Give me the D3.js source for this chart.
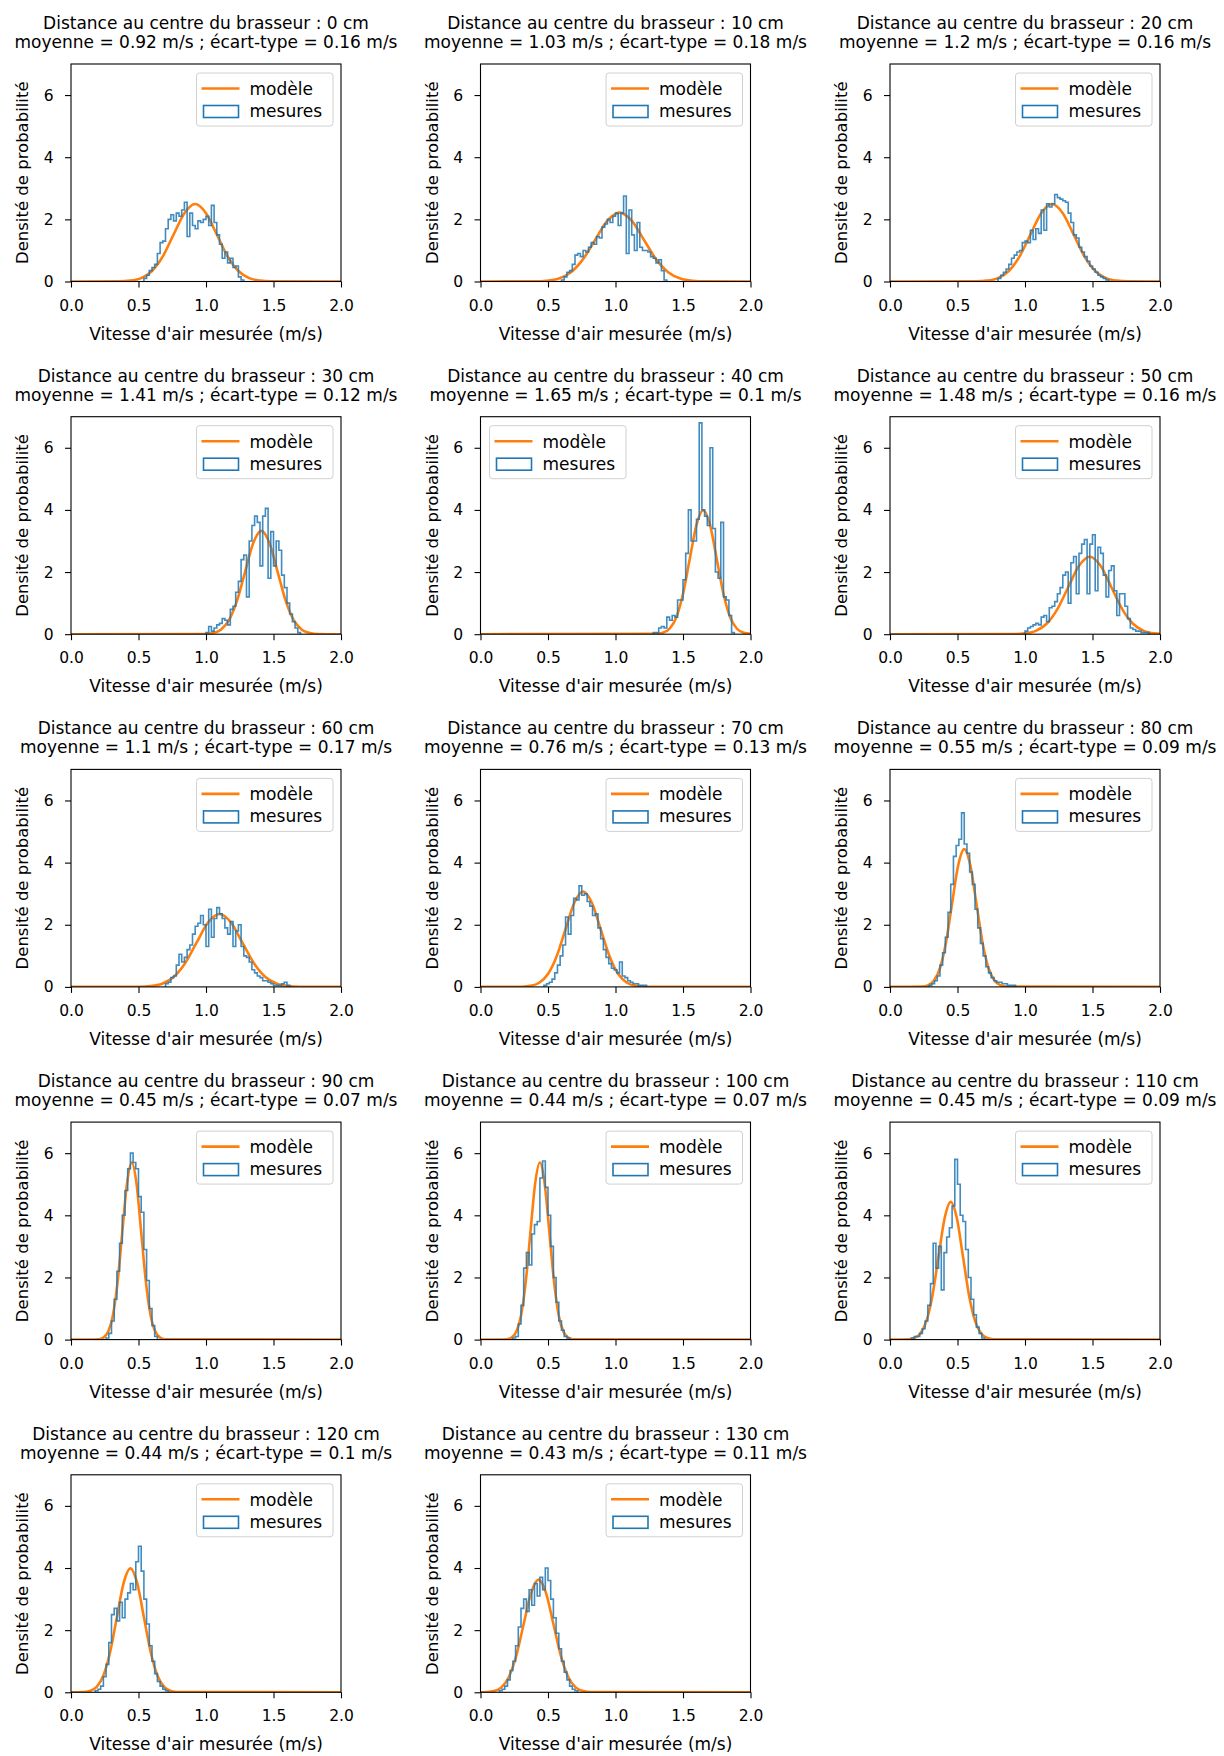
<!DOCTYPE html>
<html>
<head>
<meta charset="utf-8">
<script src="https://cdn.jsdelivr.net/npm/d3@7"></script>
<style>
  html, body { margin: 0; padding: 0; background: #ffffff; }
  svg { display: block; font-family: "DejaVu Sans", sans-serif; }
</style>
</head>
<body>
<svg id="chart" width="1224" height="1756"></svg>
<script>
// ---------- data ----------
const distances = [0, 10, 20, 30, 40, 50, 60, 70, 80, 90, 100, 110, 120, 130];
const means = [0.92, 1.03, 1.2, 1.41, 1.65, 1.48, 1.1, 0.76, 0.55, 0.45, 0.44, 0.45, 0.44, 0.43];
const stds = [0.16, 0.18, 0.16, 0.12, 0.1, 0.16, 0.17, 0.13, 0.09, 0.07, 0.07, 0.09, 0.1, 0.11];

const xTicks = [0, 0.5, 1, 1.5, 2];
const xTickLabels = ["0.0", "0.5", "1.0", "1.5", "2.0"];
const yTicks = [0, 2, 4, 6];
const yTickLabels = ["0", "2", "4", "6"];

const legendLabels = ["modèle", "mesures"];
const xLabel = "Vitesse d'air mesurée (m/s)";
const yLabel = "Densité de probabilité";

// model curve samples
const modelStart = [0.36, 0.40, 0.64, 0.99, 1.30, 0.92, 0.505, 0.305, 0.235, 0.205, 0.195, 0.135, 0.09, 0.045];
const modelStep = [0.08, 0.09, 0.08, 0.06, 0.05, 0.08, 0.085, 0.065, 0.045, 0.035, 0.035, 0.045, 0.05, 0.055];
const modelValues = [
  [0.005,0.028,0.109,0.337,0.809,1.512,2.200,2.493,2.200,1.512,0.809,0.337,0.109,0.028,0.005],
  [0.005,0.025,0.097,0.300,0.720,1.344,1.956,2.216,1.956,1.344,0.720,0.300,0.097,0.025,0.005],
  [0.005,0.028,0.109,0.337,0.809,1.512,2.200,2.493,2.200,1.512,0.809,0.337,0.109,0.028,0.005],
  [0.007,0.037,0.146,0.450,1.079,2.016,2.933,3.324,2.933,2.016,1.079,0.450,0.146,0.037,0.007],
  [0.009,0.044,0.175,0.540,1.295,2.419,3.520,3.989,3.520,2.419,1.295,0.540,0.175,0.044,0.009],
  [0.005,0.028,0.109,0.337,0.809,1.512,2.200,2.493,2.200,1.512,0.809,0.337,0.109,0.028,0.005],
  [0.005,0.026,0.103,0.318,0.762,1.423,2.071,2.347,2.071,1.423,0.762,0.318,0.103,0.026,0.005],
  [0.007,0.034,0.135,0.415,0.997,1.861,2.708,3.069,2.708,1.861,0.997,0.415,0.135,0.034,0.007],
  [0.010,0.049,0.195,0.600,1.439,2.689,3.912,4.433,3.912,2.689,1.439,0.600,0.195,0.049,0.010],
  [0.013,0.063,0.250,0.771,1.850,3.456,5.029,5.699,5.029,3.456,1.850,0.771,0.250,0.063,0.013],
  [0.013,0.063,0.250,0.771,1.850,3.456,5.029,5.699,5.029,3.456,1.850,0.771,0.250,0.063,0.013],
  [0.010,0.049,0.195,0.600,1.439,2.689,3.912,4.433,3.912,2.689,1.439,0.600,0.195,0.049,0.010],
  [0.009,0.044,0.175,0.540,1.295,2.419,3.520,3.989,3.520,2.419,1.295,0.540,0.175,0.044,0.009],
  [0.008,0.040,0.159,0.491,1.178,2.200,3.201,3.627,3.201,2.200,1.178,0.491,0.159,0.040,0.008]
];

// measured histograms (bin width histStep, first bin edge histStart)
const histStep = 0.02;
const histStart = [0.54, 0.60, 0.80, 1.00, 1.28, 1.00, 0.70, 0.47, 0.29, 0.26, 0.24, 0.16, 0.18, 0.14];
const histValues = [
  [0.1,0.2,0.35,0.45,0.55,0.9,1.25,1.3,1.7,2.0,2.15,1.95,2.2,2.1,2.3,2.55,1.45,2.2,1.8,1.7,1.95,1.9,2.0,2.1,1.8,2.45,1.9,1.5,1.2,0.75,0.95,0.6,0.75,0.45,0.5,0.15,0.05],
  [0.05,0.15,0.3,0.35,0.55,0.85,0.9,0.8,1.0,0.95,1.1,1.25,1.2,1.45,1.4,1.75,1.85,2.0,1.9,2.1,2.2,1.8,2.2,2.75,0.9,2.3,1.5,1.0,1.9,1.1,1.0,1.0,0.95,0.8,0.75,0.6,0.7,0.35,0.05],
  [0.1,0.2,0.3,0.4,0.55,0.75,0.85,0.95,1.0,1.25,1.3,1.25,1.65,1.35,1.7,1.55,2.3,1.65,2.5,2.4,2.5,2.8,2.7,2.65,2.6,2.55,2.2,1.9,1.5,1.4,1.1,0.95,0.8,0.65,0.5,0.4,0.3,0.2,0.15,0.1,0.05],
  [0.05,0.25,0.1,0.2,0.3,0.35,0.5,0.45,0.3,0.8,0.9,1.35,1.7,2.4,2.55,1.2,3.0,3.5,3.8,3.6,2.2,3.8,4.05,1.8,3.3,2.2,3.0,2.7,1.9,1.5,1.0,0.65,0.4,0.2,0.05],
  [0.05,0.05,0.2,0.25,0.2,0.55,0.45,0.6,0.55,1.1,1.1,1.75,2.6,4.0,3.0,3.0,3.7,6.8,4.0,3.8,3.5,6.0,3.4,2.0,1.8,3.6,1.2,1.1,0.6,0.05],
  [0.1,0.2,0.25,0.3,0.35,0.3,0.55,0.6,0.4,0.85,0.9,1.05,1.3,1.5,1.9,2.0,1.0,2.3,2.5,1.3,2.6,2.9,3.05,1.3,2.9,3.2,1.4,2.8,2.6,1.9,1.2,2.05,2.2,1.4,0.6,1.3,1.3,0.9,0.5,0.2,0.15,0.1,0.1,0.05,0.05,0.05],
  [0.1,0.15,0.3,0.35,0.7,1.05,0.8,0.95,1.2,1.35,1.7,1.95,2.05,2.3,2.0,1.3,2.5,1.6,2.2,2.55,2.35,2.2,1.9,1.7,2.1,1.3,1.8,2.0,1.3,1.0,0.95,0.8,0.55,0.45,0.35,0.3,0.2,0.2,0.15,0.1,0.05,0.05,0.05,0.1,0.15,0.05],
  [0.05,0.1,0.15,0.25,0.45,0.7,1.0,1.35,2.25,1.7,2.3,2.85,2.8,3.25,2.95,3.0,2.75,2.6,2.3,2.35,1.9,1.55,1.2,0.95,0.75,0.6,0.55,0.45,0.8,0.35,0.3,0.2,0.15,0.1,0.1,0.05,0.05,0.05],
  [0.05,0.1,0.2,0.35,0.7,1.1,1.6,2.4,3.3,4.2,4.55,4.75,5.6,4.6,4.3,3.7,3.3,2.5,1.9,1.4,1.0,0.65,0.45,0.3,0.2,0.15,0.15,0.1,0.1,0.05,0.05,0.05],
  [0.05,0.2,0.6,1.3,2.2,3.1,4.0,4.8,5.5,6.0,5.7,5.5,4.6,4.1,2.9,1.9,1.0,0.45,0.1],
  [0.05,0.1,0.5,1.1,2.3,2.8,2.4,3.4,3.7,3.8,5.2,5.75,4.9,4.0,3.0,2.0,1.2,0.6,0.3,0.1,0.05],
  [0.05,0.1,0.1,0.2,0.35,0.6,1.1,1.8,3.1,2.3,3.0,1.6,2.8,3.3,3.6,4.3,5.8,5.0,4.0,3.8,2.9,2.0,1.3,0.8,0.4,0.2,0.05],
  [0.05,0.1,0.2,0.5,0.9,1.6,2.5,2.7,2.3,2.9,2.4,3.0,3.2,3.5,3.3,4.2,4.7,3.9,3.0,2.2,1.5,1.0,0.6,0.35,0.2,0.1,0.05],
  [0.05,0.1,0.2,0.4,0.7,1.0,1.5,2.1,2.7,3.0,2.6,3.3,2.8,3.5,3.1,3.7,3.3,4.0,3.6,3.0,2.4,1.9,1.4,1.0,0.65,0.4,0.2,0.1,0.05]
];
const legendLeftPanels = [4];

// ---------- layout ----------
const colLeft = [71, 480.5, 890];
const rowTop0 = 64, rowGap = 352.7;
const W = 270, H = 217.5;
const BLUE = "#1f77b4", ORANGE = "#ff7f0e";
const TXT = 17, TICK = 15.5;

const svg = d3.select("#chart");
svg.append("rect").attr("width", 1224).attr("height", 1756).attr("fill", "#fff");
const defs = svg.append("defs");

distances.forEach((dist, i) => {
  const col = i % 3, row = Math.floor(i / 3);
  const left = colLeft[col], top = rowTop0 + row * rowGap;
  const g = svg.append("g").attr("transform", `translate(${left},${top})`);

  const x = d3.scaleLinear().domain([0, 2]).range([0, W]);
  const y = d3.scaleLinear().domain([0, 7]).range([H, 0]);

  const clipId = "clip" + i;
  defs.append("clipPath").attr("id", clipId)
    .append("rect").attr("x", 0).attr("y", 0).attr("width", W).attr("height", H);

  const plot = g.append("g").attr("clip-path", `url(#${clipId})`);

  // model curve
  const mPts = modelValues[i].map((v, k) => [modelStart[i] + k * modelStep[i], v]);
  if (mPts[0][0] > 0) mPts.unshift([0, 0]);
  if (mPts[mPts.length - 1][0] < 2 - 1e-9) mPts.push([2, 0]);
  const mLine = d3.line().x(d => x(d[0])).y(d => y(d[1])).curve(d3.curveMonotoneX);
  plot.append("path").attr("d", mLine(mPts))
    .attr("fill", "none").attr("stroke", ORANGE).attr("stroke-width", 2.6)
    .attr("stroke-linejoin", "round");

  // histogram (step)
  const vals = histValues[i];
  const hPts = [[histStart[i], 0]];
  vals.forEach((v, k) => hPts.push([histStart[i] + k * histStep, v]));
  hPts.push([histStart[i] + vals.length * histStep, 0]);
  const hLine = d3.line().x(d => x(d[0])).y(d => y(d[1])).curve(d3.curveStepAfter);
  plot.append("path").attr("d", hLine(hPts))
    .attr("fill", "none").attr("stroke", BLUE).attr("stroke-width", 1.6)
    .attr("stroke-opacity", 0.85).attr("stroke-linejoin", "miter");

  // axes
  const xAxis = d3.axisBottom(x).tickValues(xTicks)
    .tickFormat((d, k) => xTickLabels[k]).tickSize(6).tickPadding(12);
  const gx = g.append("g").attr("transform", `translate(0,${H})`).call(xAxis);
  gx.select(".domain").remove();
  gx.selectAll("line").attr("stroke", "#000").attr("stroke-width", 1.1);
  gx.selectAll("text").attr("font-size", TICK).attr("fill", "#000")
    .attr("font-family", "DejaVu Sans");

  const yAxis = d3.axisLeft(y).tickValues(yTicks)
    .tickFormat((d, k) => yTickLabels[k]).tickSize(6).tickPadding(11.5);
  const gy = g.append("g").call(yAxis);
  gy.select(".domain").remove();
  gy.selectAll("line").attr("stroke", "#000").attr("stroke-width", 1.1);
  gy.selectAll("text").attr("font-size", TICK).attr("fill", "#000")
    .attr("font-family", "DejaVu Sans");

  // frame
  g.append("rect").attr("x", 0).attr("y", 0).attr("width", W).attr("height", H)
    .attr("fill", "none").attr("stroke", "#000").attr("stroke-width", 1.1);

  // axis labels
  g.append("text").attr("x", W / 2).attr("y", H + 58)
    .attr("text-anchor", "middle").attr("font-size", TXT).text(xLabel);
  g.append("text").attr("transform", `translate(-43,${H / 2}) rotate(-90)`)
    .attr("text-anchor", "middle").attr("font-size", 16.5).text(yLabel);

  // titles
  g.append("text").attr("x", W / 2).attr("y", -35)
    .attr("text-anchor", "middle").attr("font-size", TXT)
    .text(`Distance au centre du brasseur : ${dist} cm`);
  g.append("text").attr("x", W / 2).attr("y", -16)
    .attr("text-anchor", "middle").attr("font-size", TXT)
    .text(`moyenne = ${means[i]} m/s ; écart-type = ${stds[i]} m/s`);

  // legend
  const lw = 136.5, lh = 53;
  const lx = legendLeftPanels.includes(i) ? 9 : W - 8 - lw;
  const ly = 9;
  const lg = g.append("g").attr("transform", `translate(${lx},${ly})`);
  lg.append("rect").attr("width", lw).attr("height", lh).attr("rx", 3)
    .attr("fill", "#fff").attr("fill-opacity", 0.8)
    .attr("stroke", "#d0d0d0").attr("stroke-width", 1);
  lg.append("line").attr("x1", 5).attr("x2", 43).attr("y1", 15.5).attr("y2", 15.5)
    .attr("stroke", ORANGE).attr("stroke-width", 2.6);
  lg.append("text").attr("x", 53).attr("y", 22).attr("font-size", TXT).text(legendLabels[0]);
  lg.append("rect").attr("x", 7).attr("y", 32.5).attr("width", 35).attr("height", 12)
    .attr("fill", "none").attr("stroke", BLUE).attr("stroke-width", 1.6);
  lg.append("text").attr("x", 53).attr("y", 44).attr("font-size", TXT).text(legendLabels[1]);
});
</script>
</body>
</html>
